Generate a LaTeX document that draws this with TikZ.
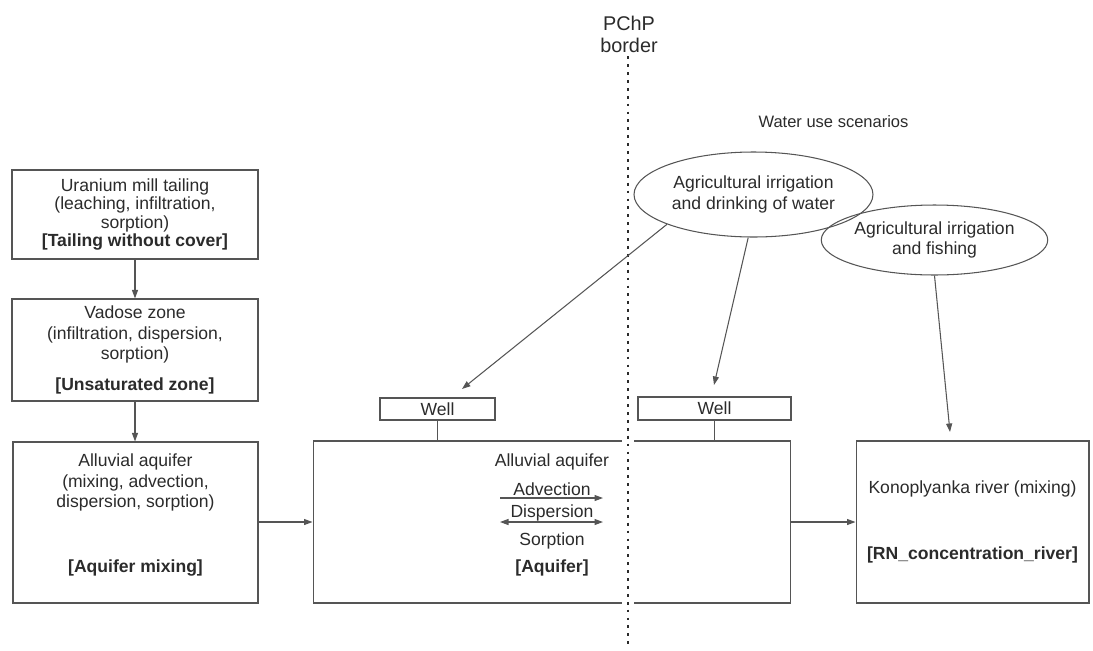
\documentclass[tikz,border=0pt]{standalone}
\usepackage{fontspec}
\setmainfont{Liberation Sans}
\usepackage{tikz}
\usetikzlibrary{arrows.meta,shapes.geometric}

\definecolor{lineg}{HTML}{555555}
\definecolor{textg}{HTML}{2B2B2B}

\tikzset{
  txt/.style={text=textg, font=\fontsize{10}{10.6}\selectfont, align=center, inner sep=0pt},
  box/.style={draw=lineg, line width=0.6pt, txt},
  scen/.style={ellipse, draw=lineg, line width=0.6pt, txt, inner sep=0pt},
  arr/.style={draw=lineg, line width=0.6pt, -{Triangle[length=1.7mm,width=1.2mm]}},
  link/.style={draw=lineg, line width=0.6pt},
  border/.style={draw=textg, line width=1.3pt, dash pattern=on 1.6pt off 2.9pt}
}

\begin{document}
\begin{tikzpicture}[x=0.02cm, y=-0.02cm]
\useasboundingbox (0,0) rectangle (1093,650);

% left column
\node[box, minimum width=4.92cm, minimum height=1.78cm] (tail) at (135,214.5)
  {Uranium mill tailing\\(leaching, infiltration,\\sorption)\\\textbf{[Tailing without cover]}};
\node[box, minimum width=4.92cm, minimum height=2.04cm] (vadose) at (135,350)
  {Vadose zone\\[1pt](infiltration, dispersion,\\[1pt]sorption)\\[7pt]\textbf{[Unsaturated zone]}};
\node[box, minimum width=4.9cm, minimum height=3.22cm] (mix) at (135.5,522.5) {};
\node[txt] at (135.5,515)
  {Alluvial aquifer\\[1pt](mixing, advection,\\[1pt]dispersion, sorption)\\[26pt]\textbf{[Aquifer mixing]}};

% aquifer and river
\node[box, minimum width=9.56cm, minimum height=3.24cm] (aq) at (552,522) {};
\node[txt] (aqname) at (552,462) {Alluvial aquifer};
\node[txt] (adv) at (552,489) {Advection};
\node[txt] (disp) at (552,513) {Dispersion};
\node[txt] (sorp) at (552,541) {Sorption};
\node[txt] (aqtag) at (552,568) {\textbf{[Aquifer]}};
\coordinate (advL) at (500,498);
\coordinate (advR) at (603,498);
\coordinate (dispL) at (500,522);
\coordinate (dispR) at (603,522);
\draw[arr] (advL) -- (advR);
\draw[arr, {Triangle[length=1.7mm,width=1.2mm]}-{Triangle[length=1.7mm,width=1.2mm]}] (dispL) -- (dispR);

\node[box, minimum width=4.66cm, minimum height=3.24cm] (river) at (972.5,522)
  {Konoplyanka river (mixing)\\[27pt]\textbf{[RN\_concentration\_river]}};

% wells
\node[box, minimum width=2.3cm, minimum height=0.44cm] (well1) at (437.5,409) {Well};
\node[box, minimum width=3.06cm, minimum height=0.46cm] (well2) at (714.5,408.5) {Well};
\draw[link] (well1.south) -- (well1.south |- aq.north);
\draw[link] (well2.south) -- (well2.south |- aq.north);

% flow
\draw[arr] (tail.south) -- (vadose.north);
\draw[arr] (vadose.south) -- (vadose.south |- mix.north);
\draw[arr] (mix.east |- aq.west) -- (aq.west);
\draw[arr] (aq.east) -- (river.west);

% border line
\node[txt, font=\fontsize{11.3}{12.6}\selectfont] (pchp) at (629,34) {PChP\\border};
\coordinate (bend) at (628,646);
\draw[white, line width=2pt] (622,441) -- (634,441) (622,603) -- (634,603);
\draw[border] ([yshift=-2pt]pchp.south -| bend) -- (bend);

% water use scenarios
\node[txt, font=\fontsize{9.4}{11}\selectfont] (scen) at (833.5,122) {Water use scenarios};
\node[scen, minimum width=4.78cm, minimum height=1.7cm] (drink) at (753.5,194.5)
  {Agricultural irrigation\\[1pt]and drinking of water};
\node[scen, minimum width=4.1cm, minimum height=1.4cm] (fish) at (934.5,240)
  {Agricultural irrigation\\[1pt]and fishing};
\coordinate (w1in) at (462,389);
\coordinate (w2in) at (714,385);
\coordinate (rin) at (950,432);
\draw[arr] (drink.199) -- (w1in);
\draw[arr] (drink.263) -- (w2in);
\draw[arr] (fish.south) -- (rin);
\end{tikzpicture}
\end{document}
